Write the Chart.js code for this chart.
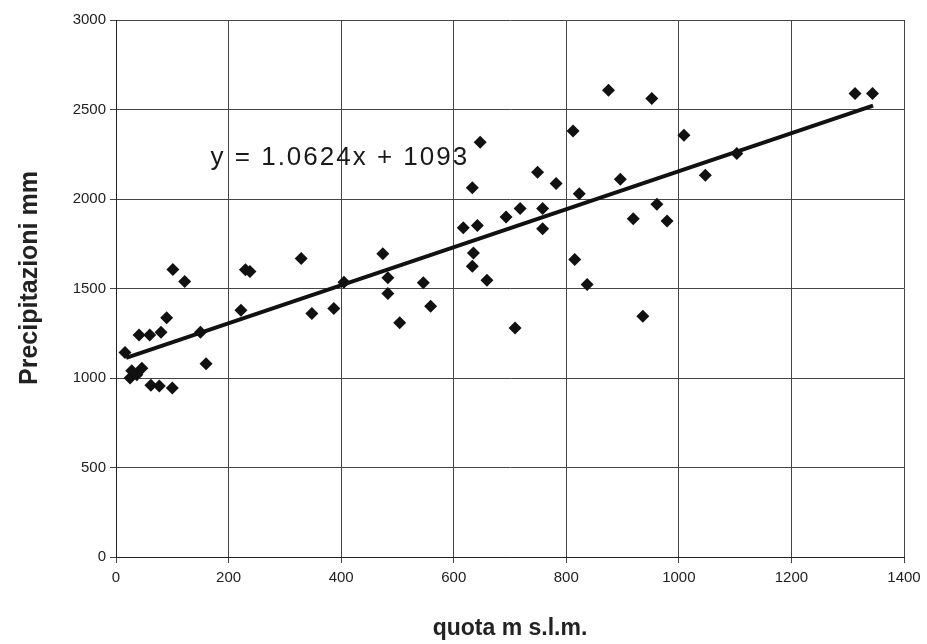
<!DOCTYPE html>
<html>
<head>
<meta charset="utf-8">
<script src="https://cdn.jsdelivr.net/npm/chart.js@4"></script>
<style>
  html, body { margin: 0; padding: 0; background: #fff; }
  #wrap { width: 927px; height: 644px; }
</style>
</head>
<body>
<div id="wrap"><canvas id="grafico" width="927" height="644"></canvas></div>
<script>
// ======================================================
// DATI: quota (m s.l.m.) e precipitazioni (mm)
// ======================================================
const quota = [
  16, 25, 28, 37, 46, 41, 60, 80, 90, 62, 77, 100,
  150, 160, 222, 101, 122, 230, 238, 329, 348, 387, 405,
  474, 483, 483, 504, 546, 559, 617, 642, 633, 647, 635,
  633, 659, 709, 693, 718, 758, 758, 749, 782, 815, 823,
  812, 875, 952, 896, 1009, 961, 919, 979, 1047, 1103,
  837, 936, 1313, 1344
];
const precipitazioni = [
  1143, 1000, 1040, 1018, 1055, 1240, 1240, 1255, 1336, 960, 955, 944,
  1255, 1080, 1378, 1606, 1539, 1605, 1595, 1667, 1360, 1388, 1535,
  1694, 1560, 1472, 1308, 1532, 1401, 1839, 1852, 2063, 2317, 1699,
  1624, 1546, 1280, 1899, 1947, 1947, 1834, 2150, 2086, 1662, 2030,
  2380, 2608, 2561, 2110, 2356, 1970, 1890, 1877, 2132, 2254,
  1522, 1345, 2589, 2589
];

// linea di tendenza (estremi)
const trendX = [18, 1345];
const trendY = [1112, 2522];
const equazione = "y = 1.0624x + 1093";

const xTicks = [0, 200, 400, 600, 800, 1000, 1200, 1400];
const yTicks = [0, 500, 1000, 1500, 2000, 2500, 3000];

const FONT = "'Liberation Sans', Arial, sans-serif";

// ======================================================
// --- Plugin: equazione e titolo asse Y ---
// ======================================================
const textLabels = {
  id: "textLabels",
  afterDatasetsDraw(chart) {
    const { ctx, scales } = chart;
    ctx.save();
    ctx.font = "26px " + FONT;
    if ("letterSpacing" in ctx) ctx.letterSpacing = "2px";
    ctx.fillStyle = "#1a1a1a";
    ctx.textAlign = "left";
    ctx.textBaseline = "middle";
    ctx.fillText(equazione, scales.x.getPixelForValue(168), scales.y.getPixelForValue(2230));
    ctx.restore();

    // titolo asse Y (leggermente sopra il centro, come nell'originale)
    ctx.save();
    ctx.font = "bold 25px " + FONT;
    ctx.fillStyle = "#222";
    ctx.textAlign = "center";
    ctx.textBaseline = "middle";
    ctx.translate(30, 278);
    ctx.rotate(-Math.PI / 2);
    ctx.fillText("Precipitazioni mm", 0, 0);
    ctx.restore();
  },
};

const ctx = document.getElementById("grafico");

new Chart(ctx, {
  type: "scatter",
  data: {
    datasets: [
      {
        label: "Precipitazioni",
        data: quota.map((q, i) => ({ x: q, y: precipitazioni[i] })),
        pointStyle: "rectRot",
        pointRadius: 6.5,
        pointBorderWidth: 0,
        backgroundColor: "#111",
        borderColor: "#111",
        order: 2,
      },
      {
        type: "line",
        label: "Tendenza",
        data: trendX.map((q, i) => ({ x: q, y: trendY[i] })),
        borderColor: "#111",
        borderWidth: 4,
        pointRadius: 0,
        fill: false,
        order: 1,
      },
    ],
  },
  options: {
    responsive: false,
    animation: false,
    layout: { padding: { top: 20, right: 23, left: 0, bottom: 0 } },
    plugins: {
      legend: { display: false },
      tooltip: { enabled: false },
    },
    scales: {
      x: {
        type: "linear",
        min: 0,
        max: 1400,
        afterBuildTicks: (s) => { s.ticks = xTicks.map((v) => ({ value: v })); },
        afterFit: (s) => { s.height = 87; },
        grid: { color: "#444", lineWidth: 1, tickLength: 6, drawTicks: true },
        border: { color: "#222", width: 1 },
        ticks: {
          color: "#222",
          padding: 6,
          callback: (v) => String(v),
          font: { family: FONT, size: 15 },
        },
        title: {
          display: true,
          text: "quota m s.l.m.",
          color: "#222",
          padding: { top: 0, bottom: 2 },
          font: { family: FONT, size: 23, weight: "bold" },
        },
      },
      y: {
        type: "linear",
        min: 0,
        max: 3000,
        afterBuildTicks: (s) => { s.ticks = yTicks.map((v) => ({ value: v })); },
        afterFit: (s) => { s.width = 116; },
        grid: { color: "#444", lineWidth: 1, tickLength: 6, drawTicks: true },
        border: { color: "#222", width: 1 },
        ticks: {
          color: "#222",
          padding: 4,
          callback: (v) => String(v),
          font: { family: FONT, size: 15 },
        },
        title: { display: false },
      },
    },
  },
  plugins: [textLabels],
});
</script>
</body>
</html>
